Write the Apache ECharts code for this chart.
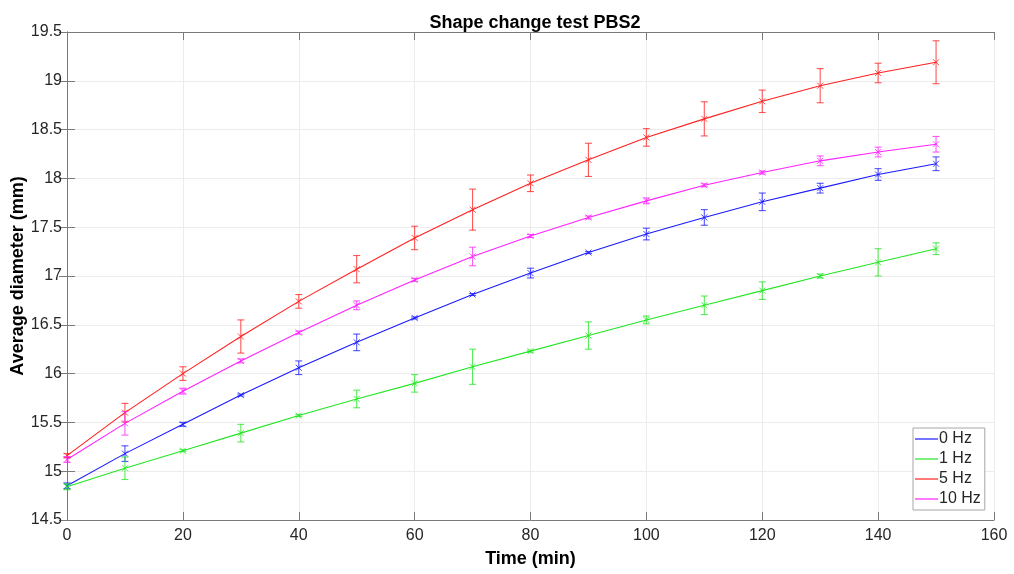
<!DOCTYPE html>
<html>
<head>
<meta charset="utf-8">
<script src="https://cdn.jsdelivr.net/npm/echarts@6/dist/echarts.min.js"></script>
<style>
  html, body { margin: 0; padding: 0; background: #fff; }
  #chart { width: 1014px; height: 574px; }
</style>
</head>
<body>
<div id="chart"></div>
<script>
// Sampling times (min)
const times = [0, 10, 20, 30, 40, 50, 60, 70, 80, 90, 100, 110, 120, 130, 140, 150];

// Mean diameter (mm) and error half-widths for each stimulation frequency
const seriesNames = ['0 Hz', '1 Hz', '5 Hz', '10 Hz'];

const mean0Hz  = [14.85, 15.18, 15.48, 15.78, 16.06, 16.32, 16.57, 16.81, 17.03, 17.24, 17.43, 17.60, 17.76, 17.90, 18.04, 18.15];
const err0Hz   = [0.03, 0.08, 0.02, 0.01, 0.07, 0.085, 0.01, 0.01, 0.05, 0.01, 0.06, 0.08, 0.09, 0.05, 0.06, 0.07];

const mean1Hz  = [14.84, 15.03, 15.21, 15.39, 15.57, 15.74, 15.90, 16.07, 16.23, 16.39, 16.55, 16.70, 16.85, 17.00, 17.14, 17.28];
const err1Hz   = [0.03, 0.115, 0.01, 0.09, 0.01, 0.09, 0.09, 0.18, 0.01, 0.14, 0.04, 0.095, 0.09, 0.02, 0.14, 0.06];

const mean5Hz  = [15.16, 15.60, 16.00, 16.38, 16.74, 17.07, 17.39, 17.68, 17.95, 18.19, 18.42, 18.61, 18.79, 18.95, 19.08, 19.19];
const err5Hz   = [0.02, 0.095, 0.07, 0.17, 0.07, 0.14, 0.12, 0.21, 0.085, 0.17, 0.09, 0.175, 0.115, 0.175, 0.10, 0.22];

const mean10Hz = [15.12, 15.49, 15.82, 16.13, 16.42, 16.70, 16.96, 17.20, 17.41, 17.60, 17.77, 17.93, 18.06, 18.18, 18.27, 18.35];
const err10Hz  = [0.03, 0.12, 0.03, 0.02, 0.015, 0.045, 0.015, 0.095, 0.015, 0.015, 0.03, 0.015, 0.015, 0.05, 0.05, 0.08];

const means = [mean0Hz, mean1Hz, mean5Hz, mean10Hz];
const errs = [err0Hz, err1Hz, err5Hz, err10Hz];
const colors = ['#1a1aff', '#22e622', '#ff2020', '#ff22ff'];

const FONT = '"Liberation Sans", Arial, Helvetica, sans-serif';
const axisGray = '#7a7a7a';
const labelColor = '#262626';

// Error bar with caps plus an "x" marker at the mean
function errorBarRenderer(color) {
  return function (params, api) {
    const x = api.value(0), y = api.value(1), e = api.value(2);
    const c = api.coord([x, y]);
    const top = api.coord([x, y + e]);
    const bot = api.coord([x, y - e]);
    const cap = 3.5, m = 3;
    const style = { stroke: color, lineWidth: 1.1, opacity: 0.75 };
    const mk = { stroke: color, lineWidth: 1, opacity: 0.8 };
    return {
      type: 'group',
      children: [
        { type: 'line', shape: { x1: top[0], y1: top[1], x2: bot[0], y2: bot[1] }, style: style },
        { type: 'line', shape: { x1: top[0] - cap, y1: top[1], x2: top[0] + cap, y2: top[1] }, style: style },
        { type: 'line', shape: { x1: bot[0] - cap, y1: bot[1], x2: bot[0] + cap, y2: bot[1] }, style: style },
        { type: 'line', shape: { x1: c[0] - m, y1: c[1] - m, x2: c[0] + m, y2: c[1] + m }, style: mk },
        { type: 'line', shape: { x1: c[0] - m, y1: c[1] + m, x2: c[0] + m, y2: c[1] - m }, style: mk }
      ]
    };
  };
}

const series = [];
seriesNames.forEach((name, k) => {
  series.push({
    name: name,
    type: 'line',
    data: times.map((t, i) => [t, means[k][i]]),
    symbol: 'none',
    lineStyle: { color: colors[k], width: 1.1 },
    itemStyle: { color: colors[k] },
    z: 3,
    silent: true
  });
  series.push({
    name: name + ' err',
    type: 'custom',
    data: times.map((t, i) => [t, means[k][i], errs[k][i]]),
    encode: { x: 0, y: 1 },
    renderItem: errorBarRenderer(colors[k]),
    z: 4,
    silent: true
  });
});

const chart = echarts.init(document.getElementById('chart'), null, { renderer: 'canvas' });

const tickStyle = { show: true, inside: true, length: 8, lineStyle: { color: axisGray, width: 1 } };

chart.setOption({
  animation: false,
  backgroundColor: '#ffffff',
  title: {
    text: 'Shape change test PBS2',
    left: 530, top: 9, textAlign: 'center',
    textStyle: { fontFamily: FONT, fontSize: 18, fontWeight: 'bold', color: '#000' }
  },
  grid: { left: 67, right: 20, top: 32, bottom: 54, containLabel: false, outerBoundsMode: 'none' },
  legend: {
    data: seriesNames,
    orient: 'vertical',
    left: 913, top: 428,
    itemWidth: 23, itemHeight: 12, itemGap: 4,
    padding: [3, 4, 3, 2],
    backgroundColor: '#ffffff',
    borderColor: '#a6a6a6', borderWidth: 1,
    textStyle: { fontFamily: FONT, fontSize: 16, color: labelColor, padding: [0, 0, 0, -4] },
    icon: 'path://M0,0 L23,0 L23,1.2 L0,1.2 Z'
  },
  xAxis: [{
    type: 'value', min: 0, max: 160, interval: 20,
    name: 'Time (min)', nameLocation: 'middle', nameGap: 30, nameMoveOverlap: false,
    nameTextStyle: { fontFamily: FONT, fontSize: 18, fontWeight: 'bold', color: '#000' },
    axisLine: { show: true, lineStyle: { color: axisGray, width: 1 } },
    axisTick: tickStyle,
    axisLabel: { fontFamily: FONT, fontSize: 16, color: labelColor, margin: 8 },
    splitLine: { show: true, lineStyle: { color: '#ececec', width: 1 } }
  }, {
    type: 'value', min: 0, max: 160, interval: 20, position: 'top',
    axisLine: { show: true, lineStyle: { color: axisGray, width: 1 } },
    axisTick: tickStyle, axisLabel: { show: false }, splitLine: { show: false }
  }],
  yAxis: [{
    type: 'value', min: 14.5, max: 19.5, interval: 0.5,
    name: 'Average diameter (mm)', nameLocation: 'middle', nameGap: 40, nameRotate: 90,
    nameMoveOverlap: false,
    nameTextStyle: { fontFamily: FONT, fontSize: 18, fontWeight: 'bold', color: '#000' },
    axisLine: { show: true, lineStyle: { color: axisGray, width: 1 } },
    axisTick: tickStyle,
    axisLabel: { fontFamily: FONT, fontSize: 16, color: labelColor, margin: 5 },
    splitLine: { show: true, lineStyle: { color: '#ececec', width: 1 } }
  }, {
    type: 'value', min: 14.5, max: 19.5, interval: 0.5, position: 'right',
    axisLine: { show: true, lineStyle: { color: axisGray, width: 1 } },
    axisTick: tickStyle, axisLabel: { show: false }, splitLine: { show: false }
  }],
  series: series
});
</script>
</body>
</html>
